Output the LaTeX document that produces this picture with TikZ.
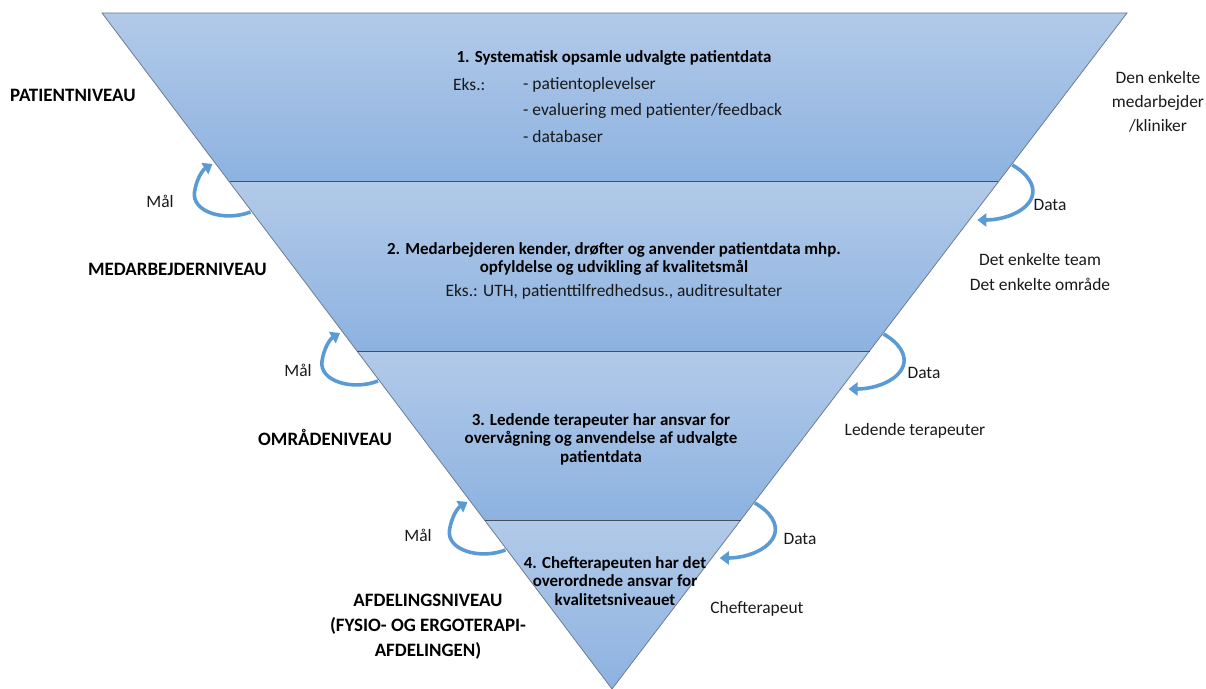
\documentclass[tikz,border=0pt]{standalone}
\usepackage{fontspec}
\setmainfont{Carlito}
\usetikzlibrary{calc,arrows.meta}
\definecolor{bandtop}{RGB}{178,202,233}
\definecolor{bandbot}{RGB}{141,178,224}
\definecolor{edgegray}{RGB}{110,125,145}
\definecolor{sepgray}{RGB}{70,80,92}
\definecolor{arrowblue}{RGB}{91,155,213}
\definecolor{txt}{RGB}{25,25,25}
\begin{document}
\begin{tikzpicture}[x=1bp,y=-1bp,
  band/.style={top color=bandtop,bottom color=bandbot,draw=none},
  lbl/.style={font=\fontsize{17.5}{22}\selectfont,text=txt,inner sep=0pt},
  blbl/.style={font=\fontsize{19}{22}\selectfont\bfseries,text=black,inner sep=0pt},
  bandtxt/.style={font=\fontsize{17}{18.5}\selectfont\bfseries,text=black,inner sep=0pt,align=center},
  loop/.style={draw=arrowblue,line width=3.6bp,-{Triangle[length=9bp,width=13bp]}},
]
\useasboundingbox (0,0) rectangle (1206,689);
\coordinate (TL) at (102,13);
\coordinate (TR) at (1127,13);
\coordinate (AP) at (612,689);
\coordinate (L1) at ($(TL)!0.25!(AP)$);
\coordinate (R1) at ($(TR)!0.25!(AP)$);
\coordinate (L2) at ($(TL)!0.5!(AP)$);
\coordinate (R2) at ($(TR)!0.5!(AP)$);
\coordinate (L3) at ($(TL)!0.75!(AP)$);
\coordinate (R3) at ($(TR)!0.75!(AP)$);
% bands
\path[band] (TL) -- (TR) -- (R1) -- (L1) -- cycle;
\path[band] (L1) -- (R1) -- (R2) -- (L2) -- cycle;
\path[band] (L2) -- (R2) -- (R3) -- (L3) -- cycle;
\path[band] (L3) -- (R3) -- (AP) -- cycle;
\draw[edgegray,line width=0.8bp] (TL) -- (TR) -- (AP) -- cycle;
\draw[sepgray,line width=1bp] (L1) -- (R1);
\draw[sepgray,line width=1bp] (L2) -- (R2);
\draw[sepgray,line width=1bp] (L3) -- (R3);
% Maal arrows (left)
\foreach \c in {L1,L2,L3}{
  \draw[loop] ($(\c)+(21,30)$) .. controls ($(\c)+(-5,40)$) and ($(\c)+(-38,30)$) .. ($(\c)+(-35,10)$)
     .. controls ($(\c)+(-33,-3)$) and ($(\c)+(-27,-12)$) .. ($(\c)+(-17,-18)$);
}
% Data arrows (right)
\foreach \c in {R1,R2,R3}{
  \draw[loop] ($(\c)+(14,-17)$) .. controls ($(\c)+(30,-8)$) and ($(\c)+(37,4)$) .. ($(\c)+(34,14)$)
     .. controls ($(\c)+(29,30)$) and ($(\c)+(5,38)$) .. ($(\c)+(-21,38)$);
}
% band 1 text
\node[bandtxt] (t1) at (614,58) {1. Systematisk opsamle udvalgte patientdata};
\node[lbl,anchor=west] (eks1) at (453,85) {Eks.:};
\node[lbl,anchor=west] (i1) at (523,85) {- patientoplevelser};
\node[lbl,anchor=west] (i2) at (523,111) {- evaluering med patienter/feedback};
\node[lbl,anchor=west] (i3) at (523,137) {- databaser};
% band 2 text
\node[bandtxt] (t2) at (614,259) {2. Medarbejderen kender, drøfter og anvender patientdata mhp.\\opfyldelse og udvikling af kvalitetsmål};
\node[lbl] (eks2) at (614,292) {Eks.: UTH, patienttilfredhedsus., auditresultater};
% band 3 text
\node[bandtxt] (t3) at (601,439) {3. Ledende terapeuter har ansvar for\\overvågning og anvendelse af udvalgte\\patientdata};
% band 4 text
\node[bandtxt] (t4) at (615,581) {4. Chefterapeuten har det\\overordnede ansvar for\\kvalitetsniveauet};
% left level labels
\node[blbl,anchor=west] (n1) at (10,95) {PATIENTNIVEAU};
\node[blbl,anchor=west] (n2) at (88,269) {MEDARBEJDERNIVEAU};
\node[blbl,anchor=west] (n3) at (258,437) {OMRÅDENIVEAU};
\node[blbl,align=center,font=\fontsize{19}{25}\selectfont\bfseries] (n4) at (428,627) {AFDELINGSNIVEAU\\(FYSIO- OG ERGOTERAPI-\\AFDELINGEN)};
% Maal labels
\node[lbl] (m1) at (160,201) {Mål};
\node[lbl] (m2) at (298,370) {Mål};
\node[lbl] (m3) at (418,535) {Mål};
% Data labels
\node[lbl] (d1) at (1050,205) {Data};
\node[lbl] (d2) at (924,373) {Data};
\node[lbl] (d3) at (800,539) {Data};
% right labels
\node[lbl,align=center,font=\fontsize{17.5}{24}\selectfont] (r1) at (1158,102) {Den enkelte\\medarbejder\\/kliniker};
\node[lbl,align=center,font=\fontsize{17.5}{26}\selectfont] (r2) at (1040,272) {Det enkelte team\\Det enkelte område};
\node[lbl] (r3) at (915,431) {Ledende terapeuter};
\node[lbl] (r4) at (757,609) {Chefterapeut};
\end{tikzpicture}
\end{document}
